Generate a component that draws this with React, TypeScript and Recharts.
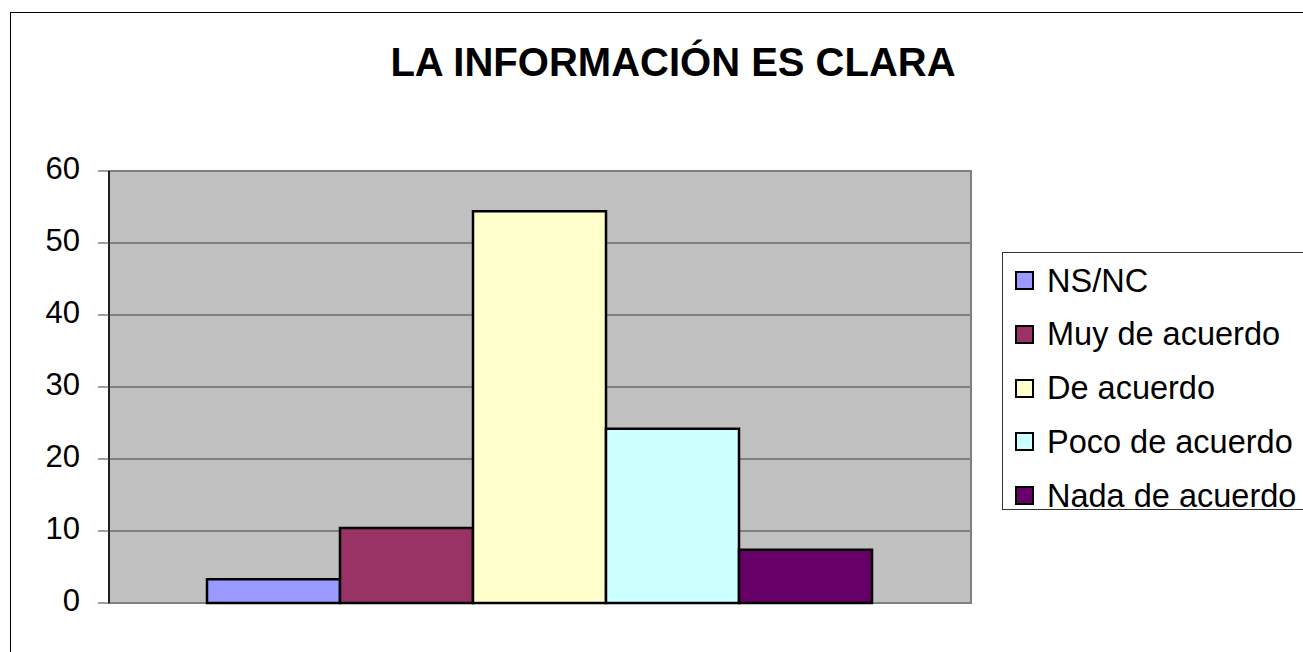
import React from 'react';
import { BarChart, Bar, XAxis, YAxis, CartesianGrid, Legend, ReferenceArea } from 'recharts';

const chartTitle = 'LA INFORMACIÓN ES CLARA';
const categories = ['LA INFORMACIÓN ES CLARA'];
const seriesNames = ['NS/NC', 'Muy de acuerdo', 'De acuerdo', 'Poco de acuerdo', 'Nada de acuerdo'];
const seriesValues = [3.3, 10.4, 54.4, 24.2, 7.4];
const seriesColors = ['#9999FF', '#993366', '#FFFFCC', '#CCFFFF', '#660066'];
const yTicks = [0, 10, 20, 30, 40, 50, 60];

const data = categories.map((c) => {
  const row: Record<string, any> = { category: c };
  seriesNames.forEach((_, i) => {
    row['s' + i] = seriesValues[i];
  });
  return row;
});

const FONT = '"Liberation Sans", Arial, sans-serif';

const YTick = (props: any) => {
  const { x, y, payload } = props;
  return (
    <text x={x} y={y + 8} textAnchor="end" fontSize={31} fontFamily={FONT} fill="#000">
      {payload.value}
    </text>
  );
};

const LegendBox = (props: any) => {
  const payload: any[] = (props.payload || []).slice();
  payload.sort((a, b) => seriesNames.indexOf(a.value) - seriesNames.indexOf(b.value));
  return (
    <div
      style={{
        position: 'relative',
        width: 340,
        height: 258,
        boxSizing: 'border-box',
        border: '1px solid #333',
        background: '#fff',
      }}
    >
      {payload.map((p, i) => (
        <div
          key={p.value}
          style={{
            position: 'absolute',
            left: 12,
            top: 27.5 + i * 53.75 - 15,
            height: 30,
            display: 'flex',
            alignItems: 'center',
            whiteSpace: 'nowrap',
          }}
        >
          <div
            style={{
              width: 19,
              height: 19,
              boxSizing: 'border-box',
              border: '2px solid #000',
              background: p.color,
              marginRight: 13,
            }}
          />
          <span style={{ fontFamily: FONT, fontSize: 32.5, lineHeight: '30px', color: '#000' }}>{p.value}</span>
        </div>
      ))}
    </div>
  );
};

export default function App() {
  return (
    <div
      style={{
        position: 'fixed',
        left: 0,
        top: 0,
        width: 1303,
        height: 652,
        overflow: 'hidden',
        background: '#fff',
      }}
    >
      <div
        style={{
          position: 'absolute',
          left: 10,
          top: 12,
          width: 1400,
          height: 700,
          border: '1px solid #000',
        }}
      />
      <div
        style={{
          position: 'absolute',
          left: 273,
          top: 42,
          width: 800,
          textAlign: 'center',
          fontFamily: FONT,
          fontWeight: 'bold',
          fontSize: 40,
          lineHeight: '40px',
          color: '#000',
          whiteSpace: 'nowrap',
          zIndex: 2,
        }}
      >
        {chartTitle}
      </div>
      <div style={{ position: 'absolute', left: 0, top: 0 }}>
        <BarChart
          width={1303}
          height={652}
          data={data}
          margin={{ top: 171, right: 332, bottom: 49, left: 49 }}
          barGap={0}
          barCategoryGap={98}
        >
          <CartesianGrid vertical={false} stroke="#404040" fill="#C0C0C0" fillOpacity={1} />
          <ReferenceArea y1={0} y2={60} fill="none" stroke="#808080" strokeWidth={2} />
          <XAxis dataKey="category" hide />
          <YAxis
            width={60}
            domain={[0, 60]}
            ticks={yTicks}
            interval={0}
            tickSize={11}
            tickMargin={18}
            axisLine={{ stroke: '#202020', strokeWidth: 2 }}
            tickLine={{ stroke: '#404040' }}
            tick={<YTick />}
          />
          <Legend
            layout="horizontal"
            verticalAlign="middle"
            align="center"
            width={340}
            wrapperStyle={{ left: 1002, top: 252, width: 340 }}
            content={<LegendBox />}
          />
          {seriesNames.map((n, i) => (
            <Bar
              key={n}
              dataKey={'s' + i}
              name={n}
              fill={seriesColors[i]}
              stroke="#000"
              strokeWidth={2.5}
              isAnimationActive={false}
            />
          ))}
        </BarChart>
      </div>
    </div>
  );
}
